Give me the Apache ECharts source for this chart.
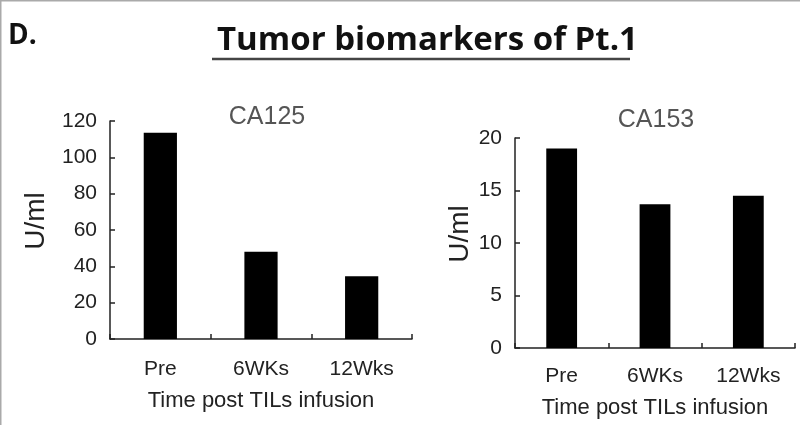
<!DOCTYPE html>
<html><head><meta charset="utf-8">
<script src="https://cdn.jsdelivr.net/npm/echarts@6/dist/echarts.min.js"></script>
<style>html,body{margin:0;padding:0;background:#fff}#c{width:800px;height:425px}</style>
</head><body><div id="c"></div>
<script>
const categories = ['Pre', '6WKs', '12Wks'];
const ca125Values = [113.5, 48, 34.5];
const ca153Values = [19, 13.7, 14.5];
const ca125Ticks = [0, 120, 20];
const ca153Ticks = [0, 20, 5];

const chart = echarts.init(document.getElementById('c'));
const font = 'Liberation Sans, Arial, sans-serif';
const ink = '#222';
const axisLine = {show: true, lineStyle: {color: ink, width: 1.5}};
function xAxis(gi) {
  return {
    type: 'category', gridIndex: gi, data: categories,
    axisLine: axisLine,
    axisTick: {show: true, inside: true, length: 5, lineStyle: {color: ink, width: 1.5}},
    axisLabel: {color: ink, fontSize: 21, fontFamily: font, margin: gi === 0 ? 20 : 18},
    name: 'Time post TILs infusion', nameLocation: 'middle', nameGap: gi === 0 ? 51 : 49,
    nameTextStyle: {color: ink, fontSize: 22, fontFamily: font}
  };
}
function yAxis(gi, t) {
  return {
    type: 'value', gridIndex: gi, min: t[0], max: t[1], interval: t[2],
    axisLine: axisLine,
    axisTick: {show: true, inside: true, length: 5, lineStyle: {color: ink, width: 1.5}},
    axisLabel: {color: ink, fontSize: 21, fontFamily: font, margin: 13},
    splitLine: {show: false},
    name: 'U/ml', nameLocation: 'middle', nameGap: gi === 0 ? 60 : 40,
    nameTextStyle: {color: ink, fontSize: 28, fontFamily: font, padding: [0, 0, 0, 18]}
  };
}
chart.setOption({
  animation: false,
  backgroundColor: '#fff',
  title: [
    {text: 'Tumor biomarkers of Pt.1', left: 212, top: 19,
     textStyle: {fontFamily: 'Open Sans, Lato, sans-serif', fontWeight: 'bold', fontSize: 33, color: '#111'}},
    {text: 'D.', left: 3, top: 17,
     textStyle: {fontFamily: 'Open Sans, Lato, sans-serif', fontWeight: 'bold', fontSize: 28, color: '#111'}},
    {text: 'CA125', left: 262, top: 100, textAlign: 'center',
     textStyle: {fontFamily: font, fontWeight: 'normal', fontSize: 25, color: '#555'}},
    {text: 'CA153', left: 651, top: 103, textAlign: 'center',
     textStyle: {fontFamily: font, fontWeight: 'normal', fontSize: 25, color: '#555'}}
  ],
  graphic: [
    {type: 'line', shape: {x1: 212, y1: 59, x2: 630, y2: 59}, style: {stroke: '#444', lineWidth: 2.5}},
    {type: 'line', shape: {x1: 0, y1: 0.75, x2: 800, y2: 0.75}, style: {stroke: '#aaa', lineWidth: 1.5}},
    {type: 'line', shape: {x1: 0.75, y1: 0, x2: 0.75, y2: 425}, style: {stroke: '#aaa', lineWidth: 1.5}}
  ],
  grid: [
    {left: 110, right: 388, top: 121, bottom: 86},
    {left: 515, right: 5, top: 138, bottom: 77}
  ],
  xAxis: [xAxis(0), xAxis(1)],
  yAxis: [yAxis(0, ca125Ticks), yAxis(1, ca153Ticks)],
  series: [
    {type: 'bar', xAxisIndex: 0, yAxisIndex: 0, data: ca125Values, barWidth: '33%', itemStyle: {color: '#000'}},
    {type: 'bar', xAxisIndex: 1, yAxisIndex: 1, data: ca153Values, barWidth: '33%', itemStyle: {color: '#000'}}
  ]
});
</script></body></html>
